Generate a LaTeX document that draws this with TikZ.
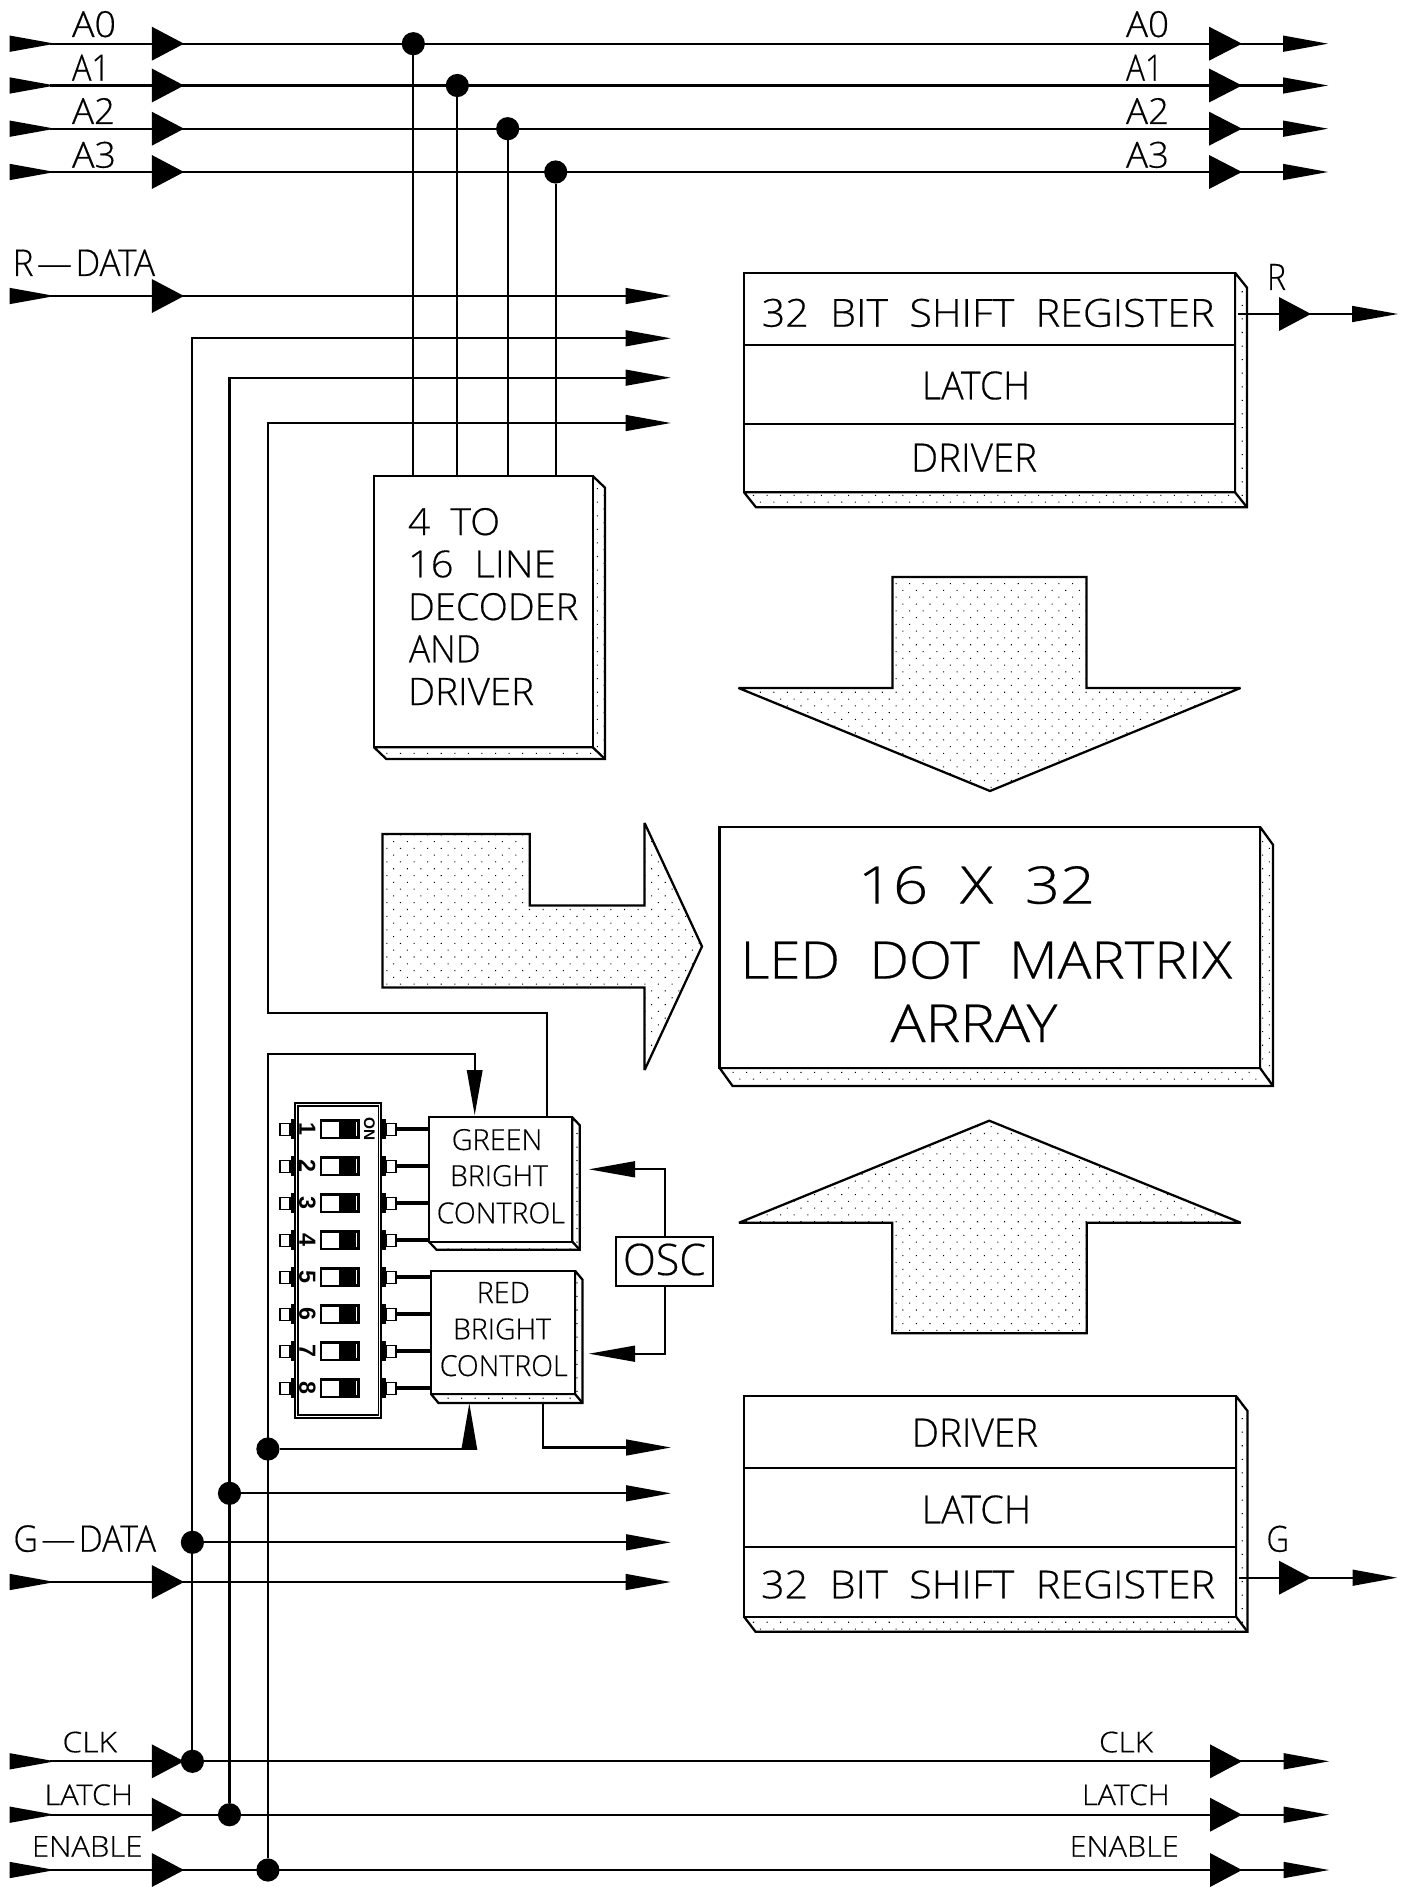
\documentclass[tikz,border=0pt]{standalone}
\usepackage{fontspec}
\usepackage{graphicx}
\usetikzlibrary{patterns.meta}
\setmainfont{Open Sans Light}[FakeBold=0.4]
\newfontfamily\digfont{Liberation Sans}
\tikzset{
  wire/.style={line width=1.6pt,line cap=butt,line join=miter},
  heavywire/.style={line width=3.2pt},
  head/.style={fill=black,draw=none},
  dotfill/.style={line width=1.7pt,line join=miter,miter limit=2,pattern={Dots[angle=45,distance=7.2pt,radius=0.55pt]}},
  boxn/.style={draw,fill=white,rectangle,inner sep=0pt,outer sep=0pt,line width=1.7pt},
  lab/.style={inner sep=0pt,outer sep=0pt,anchor=base west},
  jn/.style={circle,fill=black,inner sep=0pt,outer sep=0pt,minimum size=17.4pt},
  pinn/.style={draw,fill=white,rectangle,inner sep=0pt,outer sep=0pt,line width=1.1pt},
  dig/.style={inner sep=0pt,rotate=-90,font=\digfont\bfseries\fontsize{17.5pt}{18pt}\selectfont},
}
% label fitted into a measured box: name,x0,x1,baseline,cap height,text
\newcommand{\lbl}[6]{%
  \pgfmathsetlengthmacro\lblw{(#3-#2)*0.75}%
  \pgfmathsetlengthmacro\lblh{#5*0.75}%
  \node[lab] (#1) at (#2,#4) {\resizebox{\lblw}{\lblh}{#6}};}
% box with shaded side: name,x0,y0,x1,y1,dx,dy
\newcommand{\bx}[7]{%
  \draw[dotfill] (#4,#3) -- ({#4+#6},{#3+#7}) -- ({#4+#6},{#5+#7}) -- ({#2+#6},{#5+#7}) -- (#2,#5) -- (#4,#5) -- cycle;
  \draw[line width=1.7pt] (#4,#5) -- ({#4+#6},{#5+#7});
  \node[boxn,minimum width={(#4-#2)*0.75pt},minimum height={(#5-#3)*0.75pt}] (#1) at ({(#2+#4)/2},{(#3+#5)/2}) {};}
% horizontal arrowheads: base x, tip x, y, half height
\newcommand{\harr}[4]{\fill[head] (#1,{#3-#4}) -- (#2,#3) -- (#1,{#3+#4}) -- cycle;}
\newcommand{\varr}[4]{\fill[head] ({#3-#4},#1) -- (#3,#2) -- ({#3+#4},#1) -- cycle;}
\begin{document}
\begin{tikzpicture}[x=0.75pt,y=-0.75pt]
\useasboundingbox (0,0) rectangle (1409,1887);
\fill[white] (0,0) rectangle (1409,1887);

% boxes
\bx{dec}{374}{476}{592.7}{747.3}{12.3}{11.7}
\bx{rtop}{744}{272.7}{1235}{492.3}{12}{15}
\bx{rbot}{744}{1396}{1236}{1616.7}{11.5}{15}
\bx{mat}{719.6}{826.8}{1260}{1068}{13}{18}
\bx{green}{429}{1117.3}{572.3}{1241.7}{7.5}{8}
\bx{red}{431}{1270.7}{575}{1394}{7.5}{9}
\node[boxn,minimum width={(713.3-615.7)*0.75pt},minimum height={(1286-1236.7)*0.75pt}] (osc) at (664.5,1261.3) {};
\coordinate (ra) at (0,344.7);
\coordinate (rb1) at (0,423.7);
\coordinate (rc1) at (0,1468.3);
\coordinate (rd1) at (0,1547.3);
\draw[wire] (rtop.west |- ra) -- (rtop.east |- ra);
\draw[wire] (rtop.west |- rb1) -- (rtop.east |- rb1);
\draw[wire] (rbot.west |- rc1) -- (rbot.east |- rc1);
\draw[wire] (rbot.west |- rd1) -- (rbot.east |- rd1);

% big shaded arrows
\draw[dotfill] (892.6,577) -- (1086.5,577) -- (1086.5,688) -- (1240.5,688) -- (990,791) -- (738.5,688) -- (892.6,688) -- cycle;
\draw[dotfill] (892.2,1333.3) -- (1086.7,1333.3) -- (1086.7,1222.7) -- (1240.7,1222.7) -- (989.3,1120.7) -- (739,1222.7) -- (892.2,1222.7) -- cycle;
\draw[dotfill] (382.4,834) -- (529.7,834) -- (529.7,905.4) -- (644.6,905.4) -- (644.6,823) -- (702,946.4) -- (644.6,1070) -- (644.6,987.5) -- (382.4,987.5) -- cycle;

% junction dots
\node[jn] (j0) at (413.3,43.7) {};
\node[jn] (j1) at (457.3,85.5) {};
\node[jn] (j2) at (507.7,128.7) {};
\node[jn] (j3) at (555.7,172) {};
\node[jn] (jen) at (267.9,1449) {};
\node[jn] (jla) at (229.5,1493.3) {};
\node[jn] (jck) at (192.4,1542.3) {};
\node[jn] (jclk) at (192.4,1761.3) {};
\node[jn] (jlat) at (229.5,1814.7) {};
\node[jn] (jena) at (267.9,1870) {};

% address bus
\foreach \n/\y in {0/43.7,1/85.5,2/128.7,3/172}{
  \coordinate (a\n s) at (50,\y);
  \coordinate (a\n e) at (1285,\y);
  \draw[wire] (a\n s) -- (a\n e);
  \harr{9.5}{55}{\y}{8.2}
  \harr{151.8}{184}{\y}{17}
  \harr{1209}{1242}{\y}{17}
  \harr{1283}{1328}{\y}{8.2}
}
\draw[wire] (j0) -- (j0 |- dec.north);
\draw[wire] (j1) -- (j1 |- dec.north);
\draw[wire] (j2) -- (j2 |- dec.north);
\draw[wire] (j3) -- (j3 |- dec.north);

% control rails
\foreach \n/\y in {clk/1761.3,lat/1814.7,ena/1870}{
  \coordinate (\n s) at (50,\y);
  \coordinate (\n e) at (1285,\y);
  \draw[wire] (\n s) -- (\n e);
  \harr{9.5}{55}{\y}{8.2}
  \harr{151.8}{184}{\y}{17}
  \harr{1210}{1242}{\y}{17}
  \harr{1283.7}{1329}{\y}{8.2}
}
% R-DATA and G-DATA
\foreach \n/\y in {rd/296,gd/1582}{
  \coordinate (\n s) at (50,\y);
  \coordinate (\n e) at (630,\y);
  \draw[wire] (\n s) -- (\n e);
  \harr{9.5}{55}{\y}{8.2}
  \harr{151.8}{184}{\y}{17}
  \harr{625.5}{670.7}{\y}{8.2}
}
% vertical feeds to the upper register
\coordinate (u1) at (192.4,338.3);
\coordinate (u2) at (229.5,377.7);
\coordinate (u3) at (267.9,423);
\coordinate (u1e) at (630,338.3);
\coordinate (u2e) at (630,377.7);
\coordinate (u3e) at (630,423);
\harr{625.5}{670.7}{338.3}{8.2}
\harr{625.5}{670.7}{377.7}{8.2}
\harr{625.5}{670.7}{423}{8.2}
\draw[wire] (jclk) -- (u1) -- (u1e);
\draw[wire] (jlat) -- (u2) -- (u2e);
\coordinate (v3) at (267.9,1012.7);
\coordinate (v4) at (547.3,1012.7);
\draw[wire] (u3e) -- (u3) -- (v3) -- (v4) -- (v4 |- green.north);
% feeds to the lower register
\coordinate (l2e) at (630,1493.3);
\coordinate (l3e) at (630,1542.3);
\harr{626}{670.7}{1447.5}{8.2}
\harr{626}{670.7}{1493.3}{8.2}
\harr{626}{670.7}{1542.3}{8.2}
\draw[wire] (jla) -- (l2e);
\draw[wire] (jck) -- (l3e);
\coordinate (rout) at (630,1447.5);
\coordinate (rc) at (543,1447.5);
\coordinate (rd) at (543,1403);
\draw[wire] (rout) -- (rc) -- (rd);

% enable branches
\coordinate (gt) at (267.9,1054.3);
\coordinate (gb) at (474.7,1054.3);
\coordinate (gc) at (474.7,1072);
\draw[wire] (jena) -- (gt) -- (gb) -- (gc);
\varr{1070}{1115}{474.7}{8}
\coordinate (rbb) at (477,1449);
\draw[wire] (jen) -- (rbb);
\varr{1449.8}{1403.3}{469.3}{8}

% oscillator
\coordinate (og) at (664.7,1169.3);
\coordinate (ogh) at (630,1169.3);
\coordinate (or) at (664.7,1353.7);
\coordinate (orh) at (630,1353.7);
\draw[wire] (osc.north -| og) -- (og) -- (ogh);
\draw[wire] (osc.south -| or) -- (or) -- (orh);
\harr{635}{589}{1169.3}{8.2}
\harr{635}{589}{1353.7}{8.2}

% register outputs
\coordinate (rq) at (1238,314);
\coordinate (rqe) at (1360,314);
\draw[wire] (rq) -- (rqe);
\harr{1279}{1311}{314}{17}
\harr{1352}{1398}{314}{8.2}
\coordinate (gq) at (1239,1577.7);
\coordinate (gqe) at (1360,1577.7);
\draw[wire] (gq) -- (gqe);
\harr{1279}{1311}{1577.7}{17}
\harr{1352.5}{1397}{1577.7}{8.2}

% DIP switch
\node[draw,fill=white,rectangle,inner sep=0pt,line width=1.5pt,minimum width={86.3*0.75pt},minimum height={315*0.75pt}] (dip) at (338.2,1260.2) {};
\node[draw,rectangle,inner sep=0pt,line width=1.2pt,minimum width={80.3*0.75pt},minimum height={309*0.75pt}] (dipin) at (338.2,1260.2) {};
\foreach \i/\y in {1/1129.3,2/1166.3,3/1203.3,4/1240.3,5/1277.3,6/1314.3,7/1351.3,8/1388.3}{
  \node[pinn,minimum width={10*0.75pt},minimum height={12*0.75pt}] (pl\i) at (285,\y) {};
  \node[pinn,minimum width={10*0.75pt},minimum height={12*0.75pt}] (pr\i) at (391,\y) {};
  \fill (290.5,{\y-10}) rectangle (295,{\y+10});
  \fill (381.3,{\y-10}) rectangle (386,{\y+10});
  \node[draw,fill=black,rectangle,inner sep=0pt,line width=1.4pt,minimum width={37.4*0.75pt},minimum height={18*0.75pt}] (sw\i) at (339.9,\y) {};
  \fill[white] (321.5,{\y-7.8}) rectangle (339.3,{\y+7.8});
  \draw[white,line width=0.6pt] (356.6,{\y-7}) -- (356.6,{\y+7});
  \node[dig] (d\i) at (307.3,\y) {\i};
}
\node[inner sep=0pt,rotate=-90,font=\digfont\bfseries\fontsize{11.5pt}{12pt}\selectfont] (on) at (369.3,1129.3) {ON};
\foreach \i in {1,2,3,4}{\draw[heavywire] (pr\i.east) -- (pr\i.east -| green.west);}
\foreach \i in {5,6,7,8}{\draw[heavywire] (pr\i.east) -- (pr\i.east -| red.west);}

% labels
\lbl{ta0}{72}{116}{37}{26}{A0}
\lbl{ta1}{72}{110}{80.7}{26}{A1}
\lbl{ta2}{72}{115}{124}{26}{A2}
\lbl{ta3}{72}{116}{167.7}{26}{A3}
\lbl{tb0}{1126}{1169}{37}{26}{A0}
\lbl{tb1}{1126}{1163}{80.7}{26}{A1}
\lbl{tb2}{1126}{1169}{124}{26}{A2}
\lbl{tb3}{1126}{1169}{167.7}{26}{A3}
\lbl{trd}{12.7}{155}{276}{26.5}{R\kern.1em—\kern.1em DATA}
\lbl{tgd}{13.4}{156}{1551.7}{26.5}{G\kern.1em—\kern.1em DATA}
\lbl{tr}{1267}{1286}{290}{26}{R}
\lbl{tg}{1266.5}{1289}{1551.7}{26}{G}
\lbl{tclk}{62.5}{117}{1752.3}{20.7}{CLK}
\lbl{tlat}{44.6}{133}{1805}{20.7}{LATCH}
\lbl{tena}{32}{142.4}{1856.7}{20.7}{ENABLE}
\lbl{uclk}{1099}{1153}{1752.3}{20.7}{CLK}
\lbl{ulat}{1082}{1169.7}{1805}{20.7}{LATCH}
\lbl{uena}{1069.7}{1178.7}{1856.7}{20.7}{ENABLE}
\lbl{t32a}{761.7}{1214.3}{326.7}{28}{32\ \ BIT\ \ SHIFT\ \ REGISTER}
\lbl{tla}{922}{1030}{399.3}{28}{LATCH}
\lbl{tdr}{911}{1037}{471.7}{28}{DRIVER}
\lbl{t32b}{761}{1215}{1598.3}{28}{32\ \ BIT\ \ SHIFT\ \ REGISTER}
\lbl{tlb}{921.7}{1031}{1523.3}{28}{LATCH}
\lbl{tdb}{911.8}{1038}{1446.7}{28}{DRIVER}
\lbl{dd1}{408}{500}{535}{27}{4\ \ TO}
\lbl{dd2}{408}{555.7}{577.3}{27}{16\ \ LINE}
\lbl{dd3}{408}{578.3}{620}{27}{DECODER}
\lbl{dd4}{409}{480.7}{662.3}{27}{AND}
\lbl{dd5}{408}{534}{705}{27}{DRIVER}
\lbl{m1}{858}{1095}{903.6}{37.5}{16\ \ X\ \ 32}
\lbl{m2}{740.5}{1232}{978.6}{37.5}{LED\ \ DOT\ \ MARTRIX}
\lbl{m3}{890.5}{1057.4}{1042}{37.5}{ARRAY}
\lbl{g1}{451.7}{542.3}{1150}{21}{GREEN}
\lbl{g2}{450}{548}{1186}{21}{BRIGHT}
\lbl{g3}{436.7}{565}{1223.3}{21}{CONTROL}
\lbl{r1}{476.7}{530}{1303}{21}{RED}
\lbl{r2}{453}{551}{1339.3}{21}{BRIGHT}
\lbl{r3}{439.7}{567.7}{1376}{21}{CONTROL}
\lbl{tosc}{623}{706}{1275}{31.5}{OSC}
\end{tikzpicture}
\end{document}
